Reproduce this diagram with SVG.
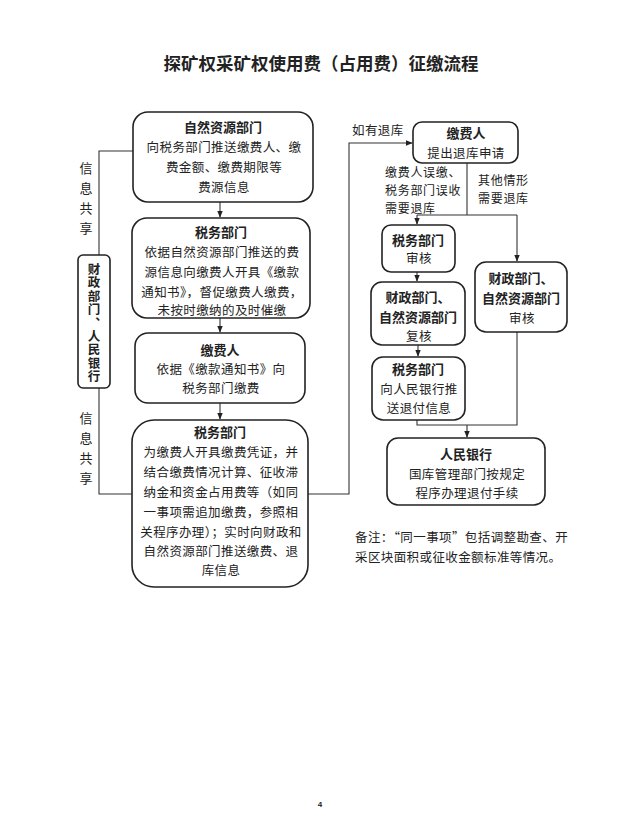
<svg xmlns="http://www.w3.org/2000/svg" width="640" height="826" viewBox="0 0 640 826">
<defs>
<style>
text{font-family:"Noto Sans CJK SC","Noto Sans",sans-serif;fill:#222;}
.t{font-size:12.5px;text-anchor:middle;letter-spacing:0.4px;}
.h{font-size:13px;font-weight:bold;text-anchor:middle;}
.l{font-size:12.5px;letter-spacing:0.4px;}
.s{font-size:12px;letter-spacing:0.7px;}
.v{font-size:13px;text-anchor:middle;}
.vb{font-size:12.5px;font-weight:bold;writing-mode:vertical-rl;letter-spacing:0.9px;}
.box{fill:#fff;stroke:#222;stroke-width:1.6;}
.c{fill:none;stroke:#333;stroke-width:1.1;}
</style>
<marker id="a" viewBox="0 0 10 10" refX="9" refY="5" markerWidth="7" markerHeight="7" orient="auto" markerUnits="userSpaceOnUse"><path d="M0,1 L10,5 L0,9 z" fill="#222"/></marker>
</defs>
<rect width="640" height="826" fill="#fff"/>
<text x="321" y="70" style="font-size:17.5px;font-weight:bold;text-anchor:middle;">探矿权采矿权使用费（占用费）征缴流程</text>

<g id="connectors">
<line class="c" x1="220" y1="202" x2="220" y2="217" marker-end="url(#a)"/>
<line class="c" x1="220" y1="318" x2="220" y2="332" marker-end="url(#a)"/>
<line class="c" x1="220" y1="403" x2="220" y2="419" marker-end="url(#a)"/>
<polyline class="c" points="133,151 99,151 99,255"/>
<polyline class="c" points="99,388 99,494 132,494"/>
<polyline class="c" points="308,494 349,494 349,143 412,143" marker-end="url(#a)"/>
<line class="c" x1="467" y1="163" x2="467" y2="215"/>
<polyline class="c" points="417,215 517,215"/>
<line class="c" x1="417" y1="215" x2="417" y2="224" marker-end="url(#a)"/>
<line class="c" x1="517" y1="215" x2="517" y2="261" marker-end="url(#a)"/>
<line class="c" x1="417" y1="272" x2="417" y2="281" marker-end="url(#a)"/>
<line class="c" x1="418" y1="345" x2="418" y2="356" marker-end="url(#a)"/>
<polyline class="c" points="417,420 417,425 517,425 517,332"/>
<line class="c" x1="467" y1="425" x2="467" y2="437" marker-end="url(#a)"/>
</g>

<g id="n1">
<rect class="box" x="133" y="112" width="180" height="90" rx="15"/>
<text class="h" x="223" y="132">自然资源部门</text>
<text class="t" x="224" y="152">向税务部门推送缴费人、缴</text>
<text class="t" x="224" y="172">费金额、缴费期限等</text>
<text class="t" x="224" y="192">费源信息</text>
</g>
<g id="n2">
<rect class="box" x="132" y="218" width="178" height="100" rx="15"/>
<text class="h" x="221" y="237">税务部门</text>
<text class="t" x="222" y="257">依据自然资源部门推送的费</text>
<text class="t" x="222" y="277">源信息向缴费人开具《缴款</text>
<text class="t" x="222" y="297">通知书》，督促缴费人缴费，</text>
<text class="t" x="222" y="315">未按时缴纳的及时催缴</text>
</g>
<g id="n3">
<rect class="box" x="135" y="333" width="170" height="70" rx="13"/>
<text class="h" x="220" y="355">缴费人</text>
<text class="t" x="221" y="374">依据《缴款通知书》向</text>
<text class="t" x="221" y="393">税务部门缴费</text>
</g>
<g id="n4">
<rect class="box" x="132" y="420" width="176" height="167" rx="22"/>
<text class="h" x="220" y="437">税务部门</text>
<text class="t" x="221" y="457">为缴费人开具缴费凭证，并</text>
<text class="t" x="221" y="477">结合缴费情况计算、征收滞</text>
<text class="t" x="221" y="497">纳金和资金占用费等（如同</text>
<text class="t" x="221" y="517">一事项需追加缴费，参照相</text>
<text class="t" x="221" y="537">关程序办理）；实时向财政和</text>
<text class="t" x="221" y="556">自然资源部门推送缴费、退</text>
<text class="t" x="221" y="575">库信息</text>
</g>
<g id="n5">
<rect class="box" x="78" y="255" width="32" height="133" rx="5"/>
<text class="vb" x="94" y="263">财政部门、人民银行</text>
</g>
<g id="labels-left">
<text class="v" x="86" y="173">信</text>
<text class="v" x="86" y="193">息</text>
<text class="v" x="86" y="213">共</text>
<text class="v" x="86" y="233">享</text>
<text class="v" x="86" y="423">信</text>
<text class="v" x="86" y="443">息</text>
<text class="v" x="86" y="463">共</text>
<text class="v" x="86" y="483">享</text>
</g>
<text class="l" x="352" y="135">如有退库</text>

<g id="r1">
<rect class="box" x="413" y="122" width="105" height="41" rx="9"/>
<text class="h" x="466" y="138">缴费人</text>
<text class="t" x="466" y="158">提出退库申请</text>
</g>
<g id="edge-labels">
<text class="s" x="385" y="177">缴费人误缴、</text>
<text class="s" x="385" y="195">税务部门误收</text>
<text class="s" x="385" y="213">需要退库</text>
<text class="s" x="478" y="185">其他情形</text>
<text class="s" x="478" y="203">需要退库</text>
</g>

<g id="r2">
<rect class="box" x="382" y="225" width="73" height="47" rx="9"/>
<text class="h" x="418" y="245">税务部门</text>
<text class="t" x="419" y="263">审核</text>
</g>
<g id="r3">
<rect class="box" x="475" y="262" width="92" height="70" rx="11"/>
<text class="h" x="521" y="283">财政部门、</text>
<text class="h" x="521" y="303">自然资源部门</text>
<text class="t" x="522" y="323">审核</text>
</g>
<g id="r4">
<rect class="box" x="371" y="282" width="94" height="63" rx="11"/>
<text class="h" x="418" y="302">财政部门、</text>
<text class="h" x="418" y="322">自然资源部门</text>
<text class="t" x="419" y="341">复核</text>
</g>
<g id="r5">
<rect class="box" x="372" y="357" width="93" height="63" rx="11"/>
<text class="h" x="418" y="374">税务部门</text>
<text class="t" x="419" y="394">向人民银行推</text>
<text class="t" x="419" y="413">送退付信息</text>
</g>
<g id="r6">
<rect class="box" x="387" y="438" width="158" height="67" rx="11"/>
<text class="h" x="466" y="459">人民银行</text>
<text class="t" x="467" y="479">国库管理部门按规定</text>
<text class="t" x="467" y="498">程序办理退付手续</text>
</g>
<text class="l" x="355" y="542">备注：“同一事项”包括调整勘查、开</text>
<text class="l" x="355" y="562">采区块面积或征收金额标准等情况。</text>
<text x="320" y="807" style="font-size:8px;font-weight:bold;text-anchor:middle;font-family:'Liberation Sans',sans-serif;">4</text>
</svg>
